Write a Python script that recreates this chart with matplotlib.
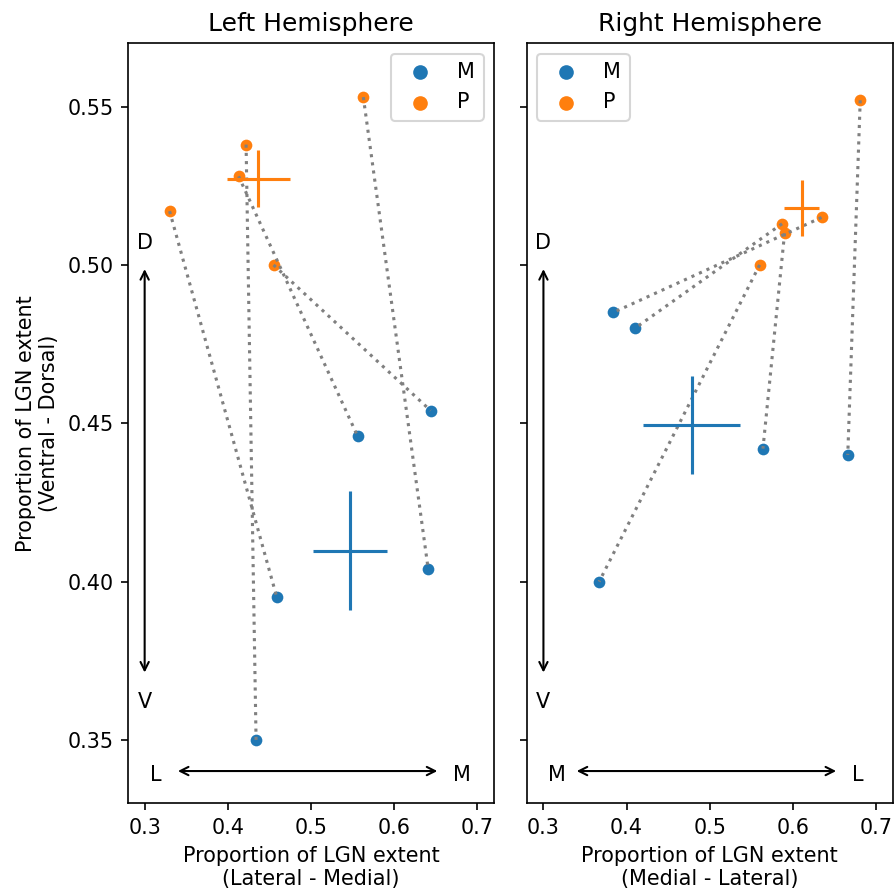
# M and P layer positions in LGN, left and right hemispheres
# dotted lines join M and P of the same subject, crosses = mean +/- SEM

import numpy as np
import matplotlib.pyplot as plt

# Left hemisphere (x: lateral - medial, y: ventral - dorsal)
lh_m_x = [0.641, 0.434, 0.556, 0.459, 0.644]
lh_m_y = [0.404, 0.350, 0.446, 0.395, 0.454]
lh_p_x = [0.563, 0.422, 0.413, 0.330, 0.455]
lh_p_y = [0.553, 0.538, 0.528, 0.517, 0.500]

# Right hemisphere (x: medial - lateral, y: ventral - dorsal)
rh_m_x = [0.666, 0.367, 0.564, 0.384, 0.410]
rh_m_y = [0.440, 0.400, 0.442, 0.485, 0.480]
rh_p_x = [0.681, 0.560, 0.590, 0.6345, 0.587]
rh_p_y = [0.552, 0.500, 0.510, 0.515, 0.513]

titles = ["Left Hemisphere", "Right Hemisphere"]
xlabels = ["Proportion of LGN extent\n(Lateral - Medial)",
           "Proportion of LGN extent\n(Medial - Lateral)"]
x_ends = [("L", "M"), ("M", "L")]
legend_loc = ["upper right", "upper left"]

c_m = "#1f77b4"
c_p = "#ff7f0e"


def sem(v):
    v = np.asarray(v)
    return v.std(ddof=1) / np.sqrt(len(v))


fig, axes = plt.subplots(1, 2, figsize=(6, 6), sharey=True)
fig.subplots_adjust(left=0.1432, right=0.9985, top=0.9516, bottom=0.1014, wspace=0.09)

data = [(lh_m_x, lh_m_y, lh_p_x, lh_p_y), (rh_m_x, rh_m_y, rh_p_x, rh_p_y)]

for i, ax in enumerate(axes):
    mx, my, px, py = data[i]

    ax.scatter(mx, my, s=32, color=c_m, linewidths=0, label="M")
    ax.scatter(px, py, s=32, color=c_p, linewidths=0, label="P")

    # join M and P of each subject
    for j in range(len(mx)):
        ax.plot([px[j], mx[j]], [py[j], my[j]], ls=":", color="gray", lw=1.5)

    # group means with SEM
    ax.errorbar(np.mean(mx), np.mean(my), xerr=sem(mx), yerr=sem(my),
                color=c_m, lw=1.5, capsize=0)
    ax.errorbar(np.mean(px), np.mean(py), xerr=sem(px), yerr=sem(py),
                color=c_p, lw=1.5, capsize=0)

    # orientation arrows
    ax.annotate("", xy=(0.3, 0.37), xytext=(0.3, 0.50),
                arrowprops=dict(arrowstyle="<->", color="black", lw=1))
    ax.text(0.3, 0.507, "D", ha="center", va="center", fontsize=10)
    ax.text(0.3, 0.362, "V", ha="center", va="center", fontsize=10)

    ax.annotate("", xy=(0.335, 0.3402), xytext=(0.657, 0.3402),
                arrowprops=dict(arrowstyle="<->", color="black", lw=1))
    ax.text(0.306, 0.339, x_ends[i][0], ha="left", va="center", fontsize=10)
    ax.text(0.671, 0.339, x_ends[i][1], ha="left", va="center", fontsize=10)

    ax.set_xlim(0.28, 0.72)
    ax.set_ylim(0.33, 0.57)
    ax.set_xticks([0.3, 0.4, 0.5, 0.6, 0.7])
    ax.set_title(titles[i])
    ax.set_xlabel(xlabels[i])
    ax.legend(loc=legend_loc[i], markerscale=1.25)

axes[0].set_yticks([0.35, 0.40, 0.45, 0.50, 0.55])
axes[0].set_ylabel("Proportion of LGN extent\n(Ventral - Dorsal)")

plt.savefig("out.png", dpi=149)
